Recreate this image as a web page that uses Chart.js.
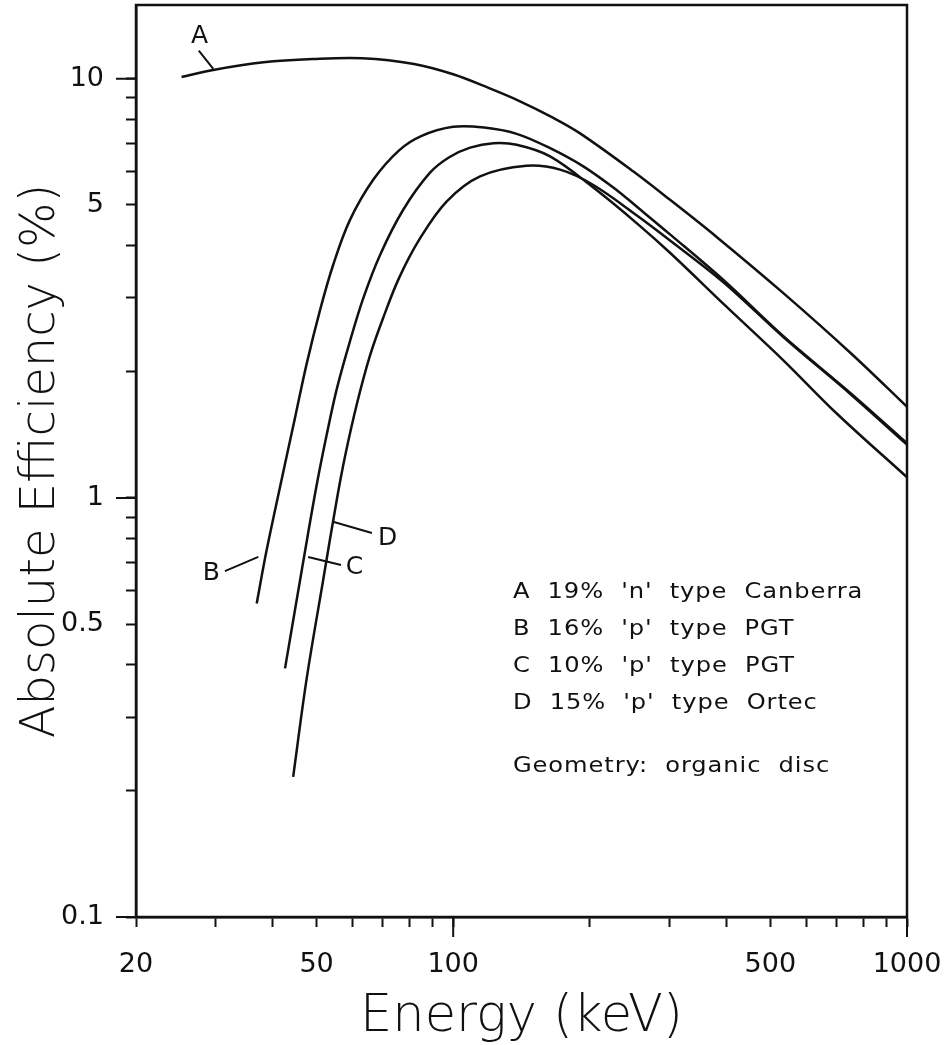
<!DOCTYPE html>
<html>
<head>
<meta charset="utf-8">
<script src="https://cdn.jsdelivr.net/npm/chart.js@4.4.1/dist/chart.umd.min.js"></script>
<style>
html,body{margin:0;padding:0;background:#fff;}
canvas{display:block;}
</style>
</head>
<body>
<canvas id="c" width="947" height="1045"></canvas>
<script>
// ---- data (Energy in keV, Absolute efficiency in %) ----
const seriesNames = ['A', 'B', 'C', 'D'];

const aEnergy = [25.2, 29.6, 38.2, 49, 63, 82, 100, 120, 140, 165, 190, 250, 300, 380, 534, 750, 1000];
const aEff    = [10.1, 10.5, 10.95, 11.15, 11.2, 10.85, 10.25, 9.5, 8.85, 8.1, 7.42, 6.0, 5.15, 4.2, 3.08, 2.22, 1.65];

const bEnergy = [36.9, 38.8, 42.2, 44.8, 47.5, 50.9, 54.4, 59.2, 66.7, 76, 85, 100, 117, 138, 163.5, 193.5, 229, 254, 300, 394, 534, 750, 1000];
const bEff    = [0.56, 0.75, 1.15, 1.55, 2.08, 2.81, 3.6, 4.6, 5.75, 6.75, 7.3, 7.68, 7.65, 7.39, 6.83, 6.18, 5.43, 4.95, 4.26, 3.31, 2.43, 1.78, 1.35];

const cEnergy = [42.6, 47.2, 50, 52.6, 55.4, 59.2, 63.4, 69, 77.6, 88.9, 98, 109, 122.6, 138, 163.5, 203.6, 254, 300, 400, 534, 700, 1000];
const cEff    = [0.392, 0.751, 1.07, 1.41, 1.82, 2.36, 3.0, 3.8, 4.87, 5.97, 6.5, 6.85, 7.02, 6.96, 6.53, 5.5, 4.52, 3.85, 2.86, 2.13, 1.59, 1.12];

const dEnergy = [44.4, 47.5, 51.7, 55.4, 57.8, 61.3, 65.6, 70.2, 76, 84.5, 96.8, 114.6, 145, 172, 203.6, 254, 300, 394, 534, 750, 1000];
const dEff    = [0.216, 0.368, 0.637, 0.99, 1.26, 1.67, 2.19, 2.7, 3.35, 4.16, 5.1, 5.85, 6.2, 6.07, 5.58, 4.72, 4.12, 3.27, 2.42, 1.77, 1.34];

// ---- axes ----
const xTickValues = [20, 30, 40, 50, 60, 70, 80, 90, 100, 200, 300, 400, 500, 600, 700, 800, 900, 1000];
const xTickLabels = ['20', '50', '100', '500', '1000'];
const xMajorTicks = [100, 1000];
const yTickValues = [0.1, 0.2, 0.3, 0.4, 0.5, 0.6, 0.7, 0.8, 0.9, 1, 2, 3, 4, 5, 6, 7, 8, 9, 10];
const yTickLabels = ['0.1', '0.5', '1', '5', '10'];
const yMajorTicks = [0.1, 1, 10];

const xTitle = 'Energy (keV)';
const yTitle = 'Absolute Efficiency (%)';

const legendLines = [
  "A  19%  'n'  type  Canberra",
  "B  16%  'p'  type  PGT",
  "C  10%  'p'  type  PGT",
  "D  15%  'p'  type  Ortec",
  "Geometry:  organic  disc"
];

// ---- annotation placement (in data coordinates) ----
const notes = {
  letters: [
    {t: 'A', e: 27.6, v: 12.63},
    {t: 'B', e: 29.3, v: 0.660},
    {t: 'C', e: 60.6, v: 0.684},
    {t: 'D', e: 71.7, v: 0.800}
  ],
  leaders: [
    {e1: 27.5, v1: 11.67, e2: 29.6, v2: 10.56},
    {e1: 31.4, v1: 0.669, e2: 37.2, v2: 0.723},
    {e1: 47.9, v1: 0.723, e2: 56.6, v2: 0.692},
    {e1: 54.6, v1: 0.876, e2: 66.2, v2: 0.825}
  ],
  legend: {e: 135.4, v: [0.595, 0.485, 0.397, 0.323, 0.228]}
};

const INK = '#111';
const FONT = 'DejaVu Sans';

function toPoints(xs, ys) { return xs.map((x, i) => ({x: x, y: ys[i]})); }

const seriesData = [
  toPoints(aEnergy, aEff),
  toPoints(bEnergy, bEff),
  toPoints(cEnergy, cEff),
  toPoints(dEnergy, dEff)
];

const decorPlugin = {
  id: 'decor',
  afterDraw(chart) {
    const {ctx, chartArea: {left, top, right, bottom}, scales: {x, y}} = chart;
    ctx.save();
    ctx.strokeStyle = INK;
    ctx.fillStyle = INK;
    ctx.lineCap = 'butt';
    // frame
    ctx.lineWidth = 2.5;
    ctx.strokeRect(left, top, right - left, bottom - top);
    // longer decade ticks
    ctx.lineWidth = 2;
    ctx.beginPath();
    yMajorTicks.forEach(v => { const py = y.getPixelForValue(v); ctx.moveTo(left - 20, py); ctx.lineTo(left, py); });
    xMajorTicks.forEach(v => { const px = x.getPixelForValue(v); ctx.moveTo(px, bottom); ctx.lineTo(px, bottom + 20); });
    ctx.stroke();
    // leader lines
    ctx.lineWidth = 2;
    ctx.beginPath();
    notes.leaders.forEach(l => {
      ctx.moveTo(x.getPixelForValue(l.e1), y.getPixelForValue(l.v1));
      ctx.lineTo(x.getPixelForValue(l.e2), y.getPixelForValue(l.v2));
    });
    ctx.stroke();
    // curve letters
    ctx.font = '25px "' + FONT + '"';
    ctx.textAlign = 'center';
    ctx.textBaseline = 'middle';
    notes.letters.forEach(n => {
      ctx.fillText(n.t, x.getPixelForValue(n.e), y.getPixelForValue(n.v));
    });
    // legend text (slightly wide lettering like the original plotter font)
    ctx.font = '21px "' + FONT + '"';
    ctx.textAlign = 'left';
    try { ctx.letterSpacing = '0.8px'; } catch (e) {}
    const lx = x.getPixelForValue(notes.legend.e);
    legendLines.forEach((s, i) => {
      const py = y.getPixelForValue(notes.legend.v[i]);
      ctx.save();
      ctx.translate(lx, py);
      ctx.scale(1.15, 1);
      ctx.fillText(s, 0, 0);
      ctx.restore();
    });
    try { ctx.letterSpacing = '0px'; } catch (e) {}
    ctx.restore();
  }
};

Chart.defaults.font.family = FONT;
Chart.defaults.color = INK;

new Chart(document.getElementById('c'), {
  type: 'line',
  data: {
    datasets: seriesData.map((d, i) => ({
      label: seriesNames[i],
      data: d,
      borderColor: INK,
      borderWidth: 2.5,
      pointRadius: 0,
      fill: false,
      tension: 0.35
    }))
  },
  options: {
    responsive: false,
    animation: false,
    devicePixelRatio: 1,
    layout: {padding: {left: 0, right: 40, top: 5, bottom: 0}},
    plugins: {legend: {display: false}, tooltip: {enabled: false}},
    scales: {
      x: {
        type: 'logarithmic',
        min: 20, max: 1000,
        afterBuildTicks: s => { s.ticks = xTickValues.map(v => ({value: v})); },
        afterFit: s => { s.height = 128; s.paddingLeft = 0; s.paddingRight = 0; },
        ticks: {
          autoSkip: false, maxRotation: 0, minRotation: 0,
          padding: 22,
          font: {size: 27, family: FONT},
          color: INK,
          callback: v => xTickLabels.includes(String(v)) ? String(v) : ''
        },
        grid: {display: true, drawOnChartArea: false, drawTicks: true, tickLength: 10, tickWidth: 2, tickColor: INK},
        border: {display: true, color: INK, width: 2.5},
        title: {display: true, text: xTitle, color: INK, font: {size: 51, family: FONT, weight: '200', lineHeight: 1}, padding: {top: 0, bottom: 2}}
      },
      y: {
        type: 'logarithmic',
        min: 0.1, max: 15,
        afterBuildTicks: s => { s.ticks = yTickValues.map(v => ({value: v})); },
        afterFit: s => { s.width = 136; s.paddingTop = 0; s.paddingBottom = 0; },
        ticks: {
          autoSkip: false,
          padding: 22,
          font: {size: 27, family: FONT},
          color: INK,
          callback: v => yTickLabels.includes(String(v)) ? String(v) : ''
        },
        grid: {display: true, drawOnChartArea: false, drawTicks: true, tickLength: 10, tickWidth: 2, tickColor: INK},
        border: {display: true, color: INK, width: 2.5},
        title: {display: true, text: yTitle, color: INK, font: {size: 48, family: FONT, weight: '200', lineHeight: 1}, padding: {top: 18, bottom: 0}}
      }
    }
  },
  plugins: [decorPlugin]
});
</script>
</body>
</html>
